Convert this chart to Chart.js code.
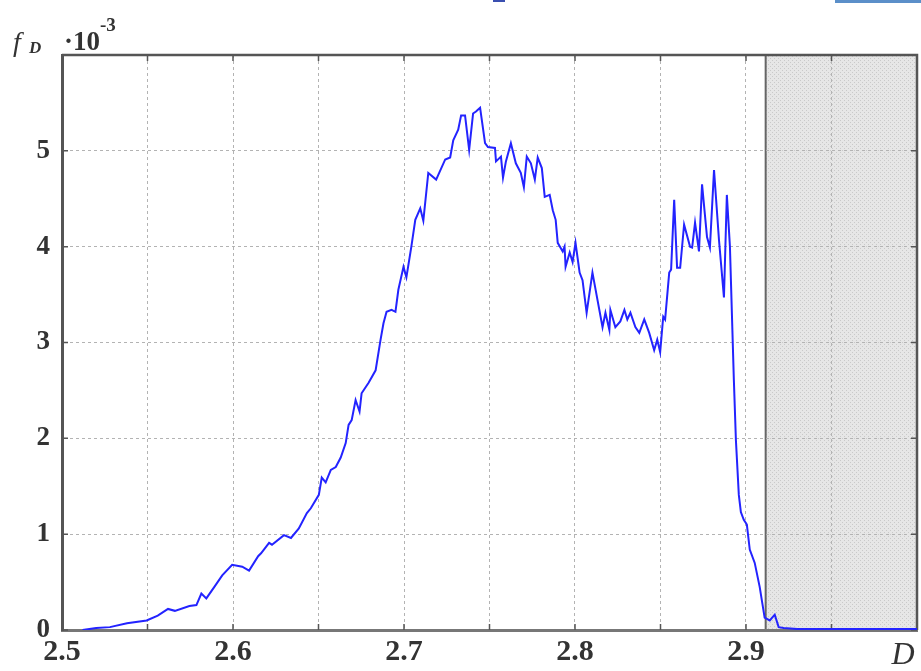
<!DOCTYPE html>
<html>
<head>
<meta charset="utf-8">
<script src="https://cdn.jsdelivr.net/npm/chart.js@4.4.1/dist/chart.umd.min.js"></script>
<style>
  html, body { margin: 0; padding: 0; background: #fff; }
  #distChart { display: block; }
</style>
</head>
<body>
<canvas id="distChart" width="921" height="671"></canvas>
<script>
// D values and the density f_D (x 10^-3)
const dValues = [
  2.512, 2.520, 2.528, 2.538, 2.5495, 2.556, 2.562, 2.566, 2.5745, 2.5786,
  2.5815, 2.5844, 2.5891, 2.5937, 2.5995, 2.6054, 2.6094, 2.6147, 2.6164, 2.6211,
  2.6228, 2.6298, 2.6339, 2.6385, 2.6432, 2.6455, 2.6502, 2.6519, 2.6542, 2.6572,
  2.6601, 2.6630, 2.6659, 2.6676, 2.6694, 2.6717, 2.6740, 2.6752, 2.6793, 2.6834,
  2.6863, 2.6880, 2.6898, 2.6927, 2.6950, 2.6967, 2.6997, 2.7014, 2.7043, 2.7066,
  2.7095, 2.7113, 2.7142, 2.7188, 2.7241, 2.7270, 2.7288, 2.7317, 2.7334, 2.7357,
  2.7381, 2.7404, 2.7421, 2.7445, 2.7474, 2.7491, 2.7532, 2.7538, 2.7567, 2.7579,
  2.7596, 2.7625, 2.7654, 2.7683, 2.7701, 2.7718, 2.7742, 2.7765, 2.7782, 2.7806,
  2.7823, 2.7852, 2.7870, 2.7887, 2.7899, 2.7928, 2.7939, 2.7945, 2.7969, 2.7986,
  2.8003, 2.8027, 2.8044, 2.8068, 2.8102, 2.8132, 2.8161, 2.8178, 2.8201, 2.8207,
  2.8236, 2.8265, 2.8289, 2.8306, 2.8324, 2.8353, 2.8376, 2.8405, 2.8434, 2.8463,
  2.8481, 2.8498, 2.8516, 2.8527, 2.8551, 2.8562, 2.8580, 2.8597, 2.8615, 2.8638,
  2.8673, 2.8685, 2.8702, 2.8725, 2.8743, 2.8772, 2.8789, 2.8813, 2.8842, 2.8871,
  2.8888, 2.8906, 2.8929, 2.8941, 2.8958, 2.8970, 2.8987, 2.9005, 2.9022, 2.9051,
  2.9080, 2.9109, 2.9139, 2.9168, 2.9191, 2.9220, 2.9300, 3.0000
];
const fValues = [
  0.00, 0.02, 0.03, 0.07, 0.10, 0.15, 0.22, 0.20, 0.25, 0.26,
  0.38, 0.33, 0.45, 0.57, 0.68, 0.66, 0.62, 0.77, 0.80, 0.91,
  0.89, 0.99, 0.96, 1.06, 1.22, 1.27, 1.41, 1.59, 1.54, 1.67,
  1.70, 1.80, 1.95, 2.14, 2.19, 2.40, 2.28, 2.47, 2.58, 2.71,
  3.03, 3.20, 3.32, 3.34, 3.32, 3.55, 3.79, 3.68, 4.00, 4.28,
  4.40, 4.27, 4.77, 4.70, 4.91, 4.93, 5.11, 5.22, 5.37, 5.37,
  5.01, 5.39, 5.41, 5.45, 5.08, 5.04, 5.03, 4.89, 4.94, 4.72,
  4.89, 5.08, 4.87, 4.77, 4.62, 4.94, 4.87, 4.70, 4.93, 4.82,
  4.52, 4.54, 4.38, 4.28, 4.04, 3.95, 4.00, 3.79, 3.94, 3.84,
  4.04, 3.73, 3.65, 3.31, 3.73, 3.44, 3.16, 3.31, 3.13, 3.34,
  3.16, 3.22, 3.34, 3.24, 3.31, 3.16, 3.10, 3.24, 3.10, 2.92,
  3.03, 2.90, 3.27, 3.24, 3.73, 3.76, 4.49, 3.78, 3.78, 4.23,
  4.00, 3.99, 4.25, 3.95, 4.65, 4.10, 3.99, 4.80, 4.07, 3.47,
  4.54, 4.00, 2.61, 1.98, 1.41, 1.23, 1.15, 1.10, 0.84, 0.70,
  0.45, 0.13, 0.10, 0.16, 0.03, 0.02, 0.01, 0.01
];

// axis ranges and the labelled ticks
const dMin = 2.5, dMax = 3.0, dStep = 0.05;
const dTickLabels = ['2.5', '2.6', '2.7', '2.8', '2.9'];
const fMin = 0, fMax = 6;
const fTickLabels = ['0', '1', '2', '3', '4', '5'];

// hatched band on the right
const shadeFrom = 2.9115, shadeTo = 3.0;

const serif = '"Liberation Serif", "DejaVu Serif", serif';
const frameColor = '#555';

function hatchPattern(ctx) {
  const c = document.createElement('canvas');
  c.width = 4; c.height = 4;
  const p = c.getContext('2d');
  p.fillStyle = '#e6e6e6';
  p.fillRect(0, 0, 4, 4);
  p.fillStyle = '#c9c9c9';
  p.fillRect(0, 0, 1, 1);
  p.fillRect(2, 2, 1, 1);
  return ctx.createPattern(c, 'repeat');
}

const shadePlugin = {
  id: 'shade',
  beforeDraw(chart) {
    const { ctx, chartArea, scales } = chart;
    const x0 = scales.x.getPixelForValue(shadeFrom);
    const x1 = scales.x.getPixelForValue(shadeTo);
    ctx.save();
    ctx.fillStyle = hatchPattern(ctx);
    ctx.fillRect(x0, chartArea.top, x1 - x0, chartArea.bottom - chartArea.top);
    ctx.strokeStyle = '#666';
    ctx.lineWidth = 2;
    ctx.beginPath();
    ctx.moveTo(x0, chartArea.top);
    ctx.lineTo(x0, chartArea.bottom);
    ctx.stroke();
    ctx.restore();
  }
};

// box lines on top/right plus small inward ticks on all four sides
const framePlugin = {
  id: 'frame',
  beforeDatasetsDraw(chart) {
    const { ctx, chartArea: a, scales } = chart;
    ctx.save();
    ctx.strokeStyle = frameColor;
    ctx.lineWidth = 2.5;
    ctx.beginPath();
    ctx.moveTo(a.left, a.top);
    ctx.lineTo(a.right, a.top);
    ctx.lineTo(a.right, a.bottom);
    ctx.stroke();

    ctx.lineWidth = 1.5;
    ctx.beginPath();
    scales.x.ticks.forEach(t => {
      const px = scales.x.getPixelForValue(t.value);
      ctx.moveTo(px, a.bottom); ctx.lineTo(px, a.bottom - 6);
      ctx.moveTo(px, a.top); ctx.lineTo(px, a.top + 6);
    });
    scales.y.ticks.forEach(t => {
      const py = scales.y.getPixelForValue(t.value);
      ctx.moveTo(a.left, py); ctx.lineTo(a.left + 6, py);
      ctx.moveTo(a.right, py); ctx.lineTo(a.right - 6, py);
    });
    ctx.stroke();
    ctx.restore();
  }
};

// axis names: f_D ·10^-3 above the y axis, D at the end of the x axis
const axisNamePlugin = {
  id: 'axisNames',
  afterDraw(chart) {
    const { ctx, chartArea: a } = chart;
    ctx.save();
    ctx.fillStyle = '#333';
    ctx.textBaseline = 'alphabetic';
    ctx.textAlign = 'left';
    ctx.font = 'italic 28px ' + serif;
    ctx.fillText('f', 13, a.top - 4);
    ctx.font = 'italic bold 17px ' + serif;
    ctx.fillText('D', 29, a.top - 2);
    ctx.font = 'bold 27px ' + serif;
    ctx.fillText('·10', 64, a.top - 5);
    ctx.font = 'bold 19px ' + serif;
    ctx.fillText('-3', 100, a.top - 24);
    ctx.font = 'italic 32px ' + serif;
    ctx.textAlign = 'center';
    ctx.fillText('D', 903, a.bottom + 34);
    ctx.restore();

    // thin blue strip along the top edge
    ctx.save();
    ctx.fillStyle = '#5b8fc9';
    ctx.fillRect(835, 0, 86, 3);
    ctx.fillStyle = '#3a4fb0';
    ctx.fillRect(493, 0, 12, 2);
    ctx.restore();
  }
};

const ctx = document.getElementById('distChart').getContext('2d');
new Chart(ctx, {
  type: 'line',
  data: {
    datasets: [{
      data: dValues.map((d, i) => ({ x: d, y: fValues[i] })),
      borderColor: 'rgb(35, 35, 255)',
      borderWidth: 2,
      pointRadius: 0,
      tension: 0,
      fill: false
    }]
  },
  options: {
    responsive: false,
    animation: false,
    devicePixelRatio: 1,
    layout: { padding: { top: 55, right: 1, left: 0, bottom: 0 } },
    plugins: { legend: { display: false }, tooltip: { enabled: false } },
    scales: {
      x: {
        type: 'linear',
        min: dMin,
        max: dMax,
        afterFit: s => { s.height = 41; },
        afterBuildTicks: s => {
          const out = [];
          for (let v = dMin; v <= dMax + 1e-9; v += dStep) out.push({ value: +v.toFixed(2) });
          s.ticks = out;
        },
        ticks: {
          autoSkip: false,
          maxRotation: 0,
          padding: 4,
          color: '#333',
          font: { family: serif, size: 30, weight: 'bold' },
          callback: v => {
            const s = v.toFixed(1);
            return (Math.abs(v - +s) < 1e-6 && dTickLabels.includes(s)) ? s : '';
          }
        },
        grid: { color: '#b3b3b3', lineWidth: 1, drawTicks: false, tickLength: 0 },
        border: { display: true, color: '#777', width: 3, dash: [3, 3] }
      },
      y: {
        min: fMin,
        max: fMax,
        afterFit: s => { s.width = 62; },
        ticks: {
          stepSize: 1,
          padding: 12,
          color: '#333',
          font: { family: serif, size: 27, weight: 'bold' },
          callback: v => fTickLabels.includes(String(v)) ? String(v) : ''
        },
        grid: { color: '#b3b3b3', lineWidth: 1, drawTicks: false, tickLength: 0 },
        border: { display: true, color: frameColor, width: 3, dash: [3, 3] }
      }
    }
  },
  plugins: [shadePlugin, framePlugin, axisNamePlugin]
});
</script>
</body>
</html>
